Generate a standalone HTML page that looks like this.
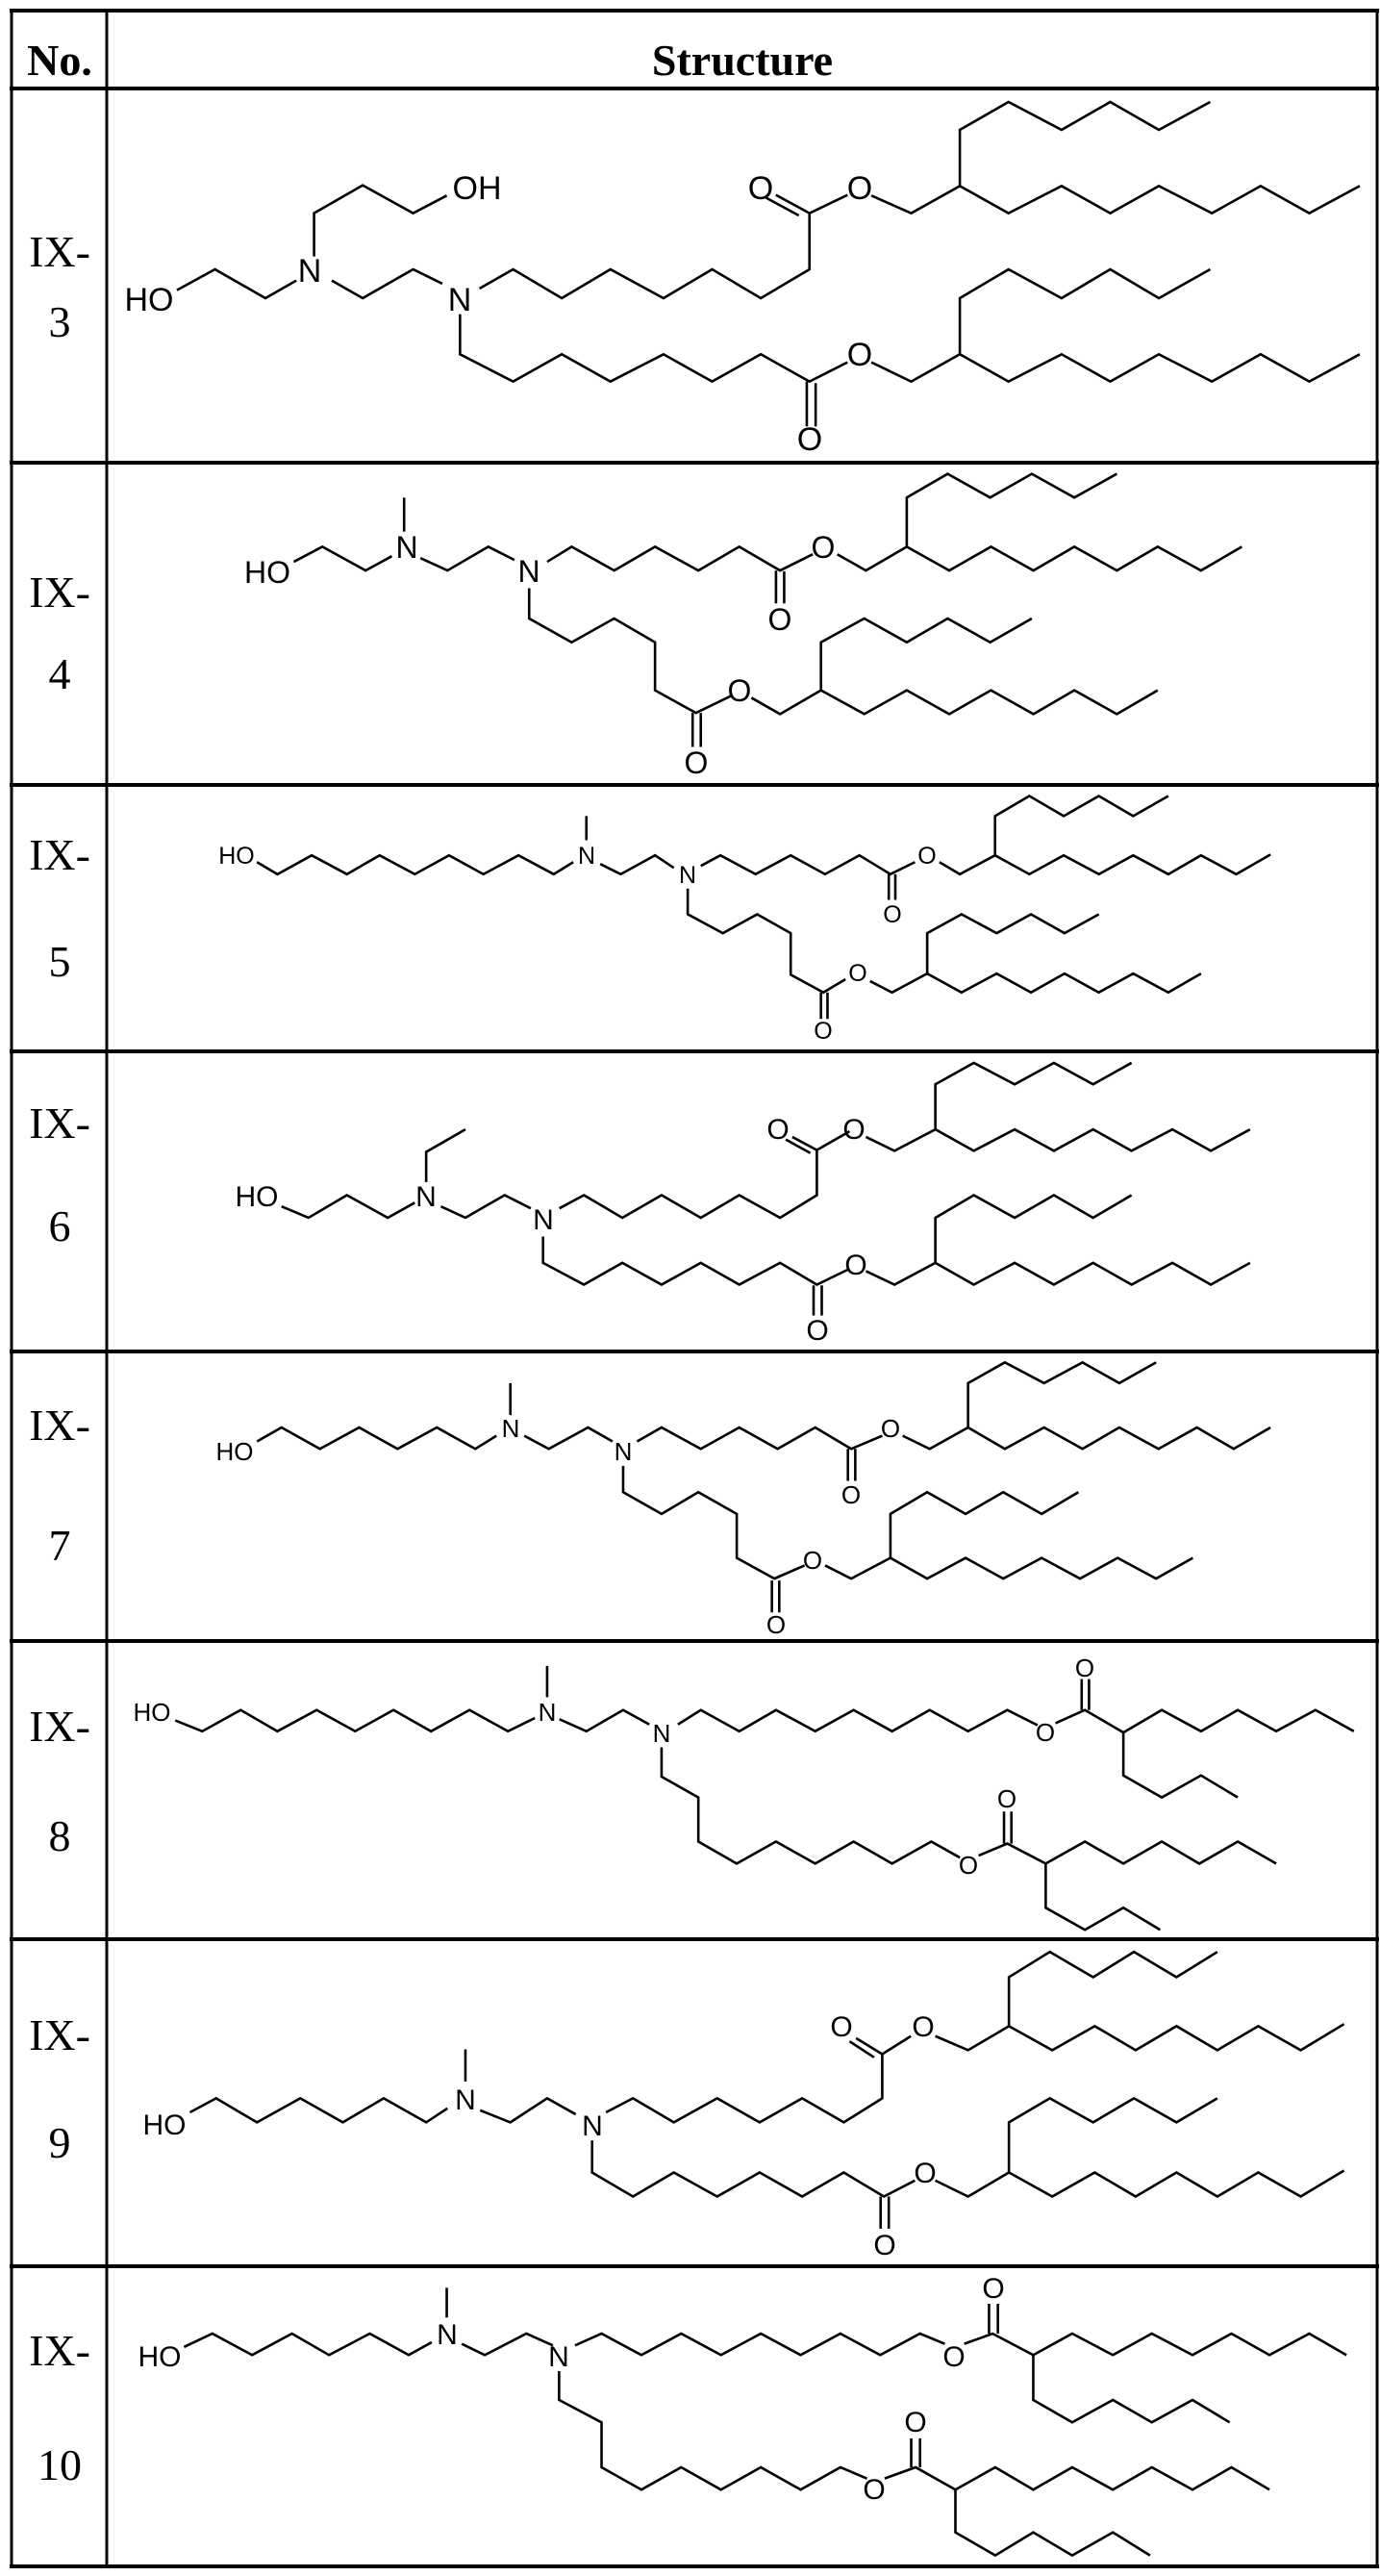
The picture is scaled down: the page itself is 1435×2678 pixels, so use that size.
<!DOCTYPE html>
<html><head><meta charset="utf-8"><style>
html,body{margin:0;padding:0;background:#fff;}
svg{display:block;}
.b polyline,.b line{fill:none;stroke:#000;stroke-width:2.6;vector-effect:non-scaling-stroke;stroke-linejoin:miter;}
.t{font-family:"Liberation Sans",sans-serif;text-anchor:middle;fill:#000;}
.s{font-family:"Liberation Serif",serif;text-anchor:middle;fill:#000;font-size:46px;}
</style></head><body>
<svg width="1435" height="2678" viewBox="0 0 1435 2678" xmlns="http://www.w3.org/2000/svg">
<rect width="1435" height="2678" fill="#fff"/>
<g stroke="#000" stroke-width="4">
<line x1="10" y1="11" x2="1434" y2="11"/><line x1="10" y1="92" x2="1434" y2="92"/>
<line x1="10" y1="481" x2="1434" y2="481"/><line x1="10" y1="816" x2="1434" y2="816"/>
<line x1="10" y1="1093" x2="1434" y2="1093"/><line x1="10" y1="1405" x2="1434" y2="1405"/>
<line x1="10" y1="1706" x2="1434" y2="1706"/><line x1="10" y1="2016" x2="1434" y2="2016"/>
<line x1="10" y1="2356" x2="1434" y2="2356"/><line x1="10" y1="2668" x2="1434" y2="2668"/>
</g>
<g stroke="#000" stroke-width="3">
<line x1="12" y1="10" x2="12" y2="2670"/><line x1="111" y1="10" x2="111" y2="2670"/><line x1="1432" y1="10" x2="1432" y2="2670"/>
</g>
<text x="62" y="78" class="s" font-weight="bold" style="font-size:46px">No.</text>
<text x="772" y="78" class="s" font-weight="bold" style="font-size:46px">Structure</text>
<text x="62" y="277" class="s">IX-</text><text x="62" y="350" class="s">3</text>
<text x="62" y="631" class="s">IX-</text><text x="62" y="716" class="s">4</text>
<text x="62" y="904" class="s">IX-</text><text x="62" y="1015" class="s">5</text>
<text x="62" y="1183" class="s">IX-</text><text x="62" y="1290" class="s">6</text>
<text x="62" y="1497" class="s">IX-</text><text x="62" y="1622" class="s">7</text>
<text x="62" y="1810" class="s">IX-</text><text x="62" y="1924" class="s">8</text>
<text x="62" y="2131" class="s">IX-</text><text x="62" y="2243" class="s">9</text>
<text x="62" y="2459" class="s">IX-</text><text x="62" y="2578" class="s">10</text>

<!-- IX-3 -->
<g class="b" transform="translate(0,0) scale(0.9199,0.3333)">
<polyline points="200,905 243,840 300,930 335,875"/>
<polyline points="355,800 355,665 410,578 467,665 505,610"/>
<polyline points="375,875 410,930 467,840 500,885"/>
<polyline points="542,900 580,840 635,930 690,840 750,930 805,840 860,930 915,840 915,665 958,608"/>
<line x1="915" y1="665" x2="877" y2="608"/><line x1="903" y1="672" x2="866" y2="617"/>
<polyline points="985,610 1030,665 1085,580 1140,665 1200,580 1255,665 1310,580 1370,665 1425,580 1480,665 1537,580"/>
<polyline points="1085,580 1085,405 1140,318 1200,405 1255,318 1310,405 1368,318"/>
<polyline points="520,980 520,1105 580,1190 635,1105 690,1190 750,1105 805,1190 860,1105 915,1190 958,1130"/>
<line x1="912" y1="1190" x2="912" y2="1330"/><line x1="922" y1="1195" x2="922" y2="1330"/>
<polyline points="985,1130 1030,1190 1085,1105 1140,1190 1200,1105 1255,1190 1310,1105 1370,1190 1425,1105 1480,1190 1537,1105"/>
<polyline points="1085,1105 1085,930 1140,840 1200,930 1255,840 1310,930 1368,840"/>
</g>
<g class="t" style="font-size:34px">
<text x="155" y="323">HO</text><text x="496" y="207">OH</text><text x="322" y="293">N</text><text x="478" y="323">N</text>
<text x="791" y="207">O</text><text x="894" y="207">O</text><text x="894" y="380">O</text><text x="842" y="468">O</text>
</g>

<!-- IX-4 & IX-5 -->
<g class="b" transform="translate(110,480) scale(0.8499,0.3927)">
<polyline points="230,265 265,225 318,288 350,250"/>
<polyline points="365,185 365,95"/>
<polyline points="385,255 418,288 468,225 500,260"/>
<polyline points="540,265 570,225 622,288 672,225 725,288 775,225 825,288 865,245"/>
<line x1="820" y1="288" x2="820" y2="375"/><line x1="830" y1="290" x2="830" y2="375"/>
<polyline points="895,245 930,288 980,225 1032,288 1083,225 1135,288 1185,225 1237,288 1287,225 1340,288 1390,225"/>
<polyline points="980,225 980,95 1030,32 1082,95 1133,32 1185,95 1237,32"/>
<polyline points="518,335 518,415 570,478 622,415 672,478 672,605 722,665 765,620"/>
<line x1="718" y1="665" x2="718" y2="755"/><line x1="728" y1="665" x2="728" y2="755"/>
<polyline points="790,625 825,668 875,605 928,668 980,605 1032,668 1083,605 1135,668 1185,605 1237,668 1287,605"/>
<polyline points="875,605 875,478 928,415 980,478 1030,415 1082,478 1133,415"/>

<polyline points="185,1060 210,1092 252,1042 295,1092 335,1042 378,1092 420,1042 462,1092 505,1042 548,1092 572,1060"/>
<polyline points="588,1002 588,938"/>
<polyline points="605,1065 630,1092 672,1042 695,1075"/>
<polyline points="728,1070 752,1042 795,1092 838,1042 880,1092 922,1042 960,1092 990,1060"/>
<line x1="958" y1="1092" x2="958" y2="1160"/><line x1="966" y1="1092" x2="966" y2="1160"/>
<polyline points="1020,1060 1045,1092 1088,1042 1130,1092 1172,1042 1215,1092 1257,1042 1300,1092 1340,1042 1383,1092 1425,1040"/>
<polyline points="1088,1042 1088,938 1130,885 1172,938 1215,885 1257,938 1300,885"/>
<polyline points="712,1130 712,1198 755,1248 797,1198 838,1248 838,1358 878,1405 905,1370"/>
<line x1="875" y1="1405" x2="875" y2="1475"/><line x1="883" y1="1405" x2="883" y2="1475"/>
<polyline points="935,1375 962,1405 1005,1355 1047,1405 1090,1355 1132,1405 1173,1355 1215,1405 1257,1355 1300,1405 1340,1355"/>
<polyline points="1005,1355 1005,1248 1047,1198 1090,1248 1132,1198 1173,1248 1215,1198"/>
</g>
<g class="t" style="font-size:32px">
<text x="278" y="606">HO</text><text x="423" y="580">N</text><text x="550" y="605">N</text>
<text x="856" y="580">O</text><text x="811" y="655">O</text><text x="769" y="729">O</text><text x="724" y="804">O</text>
</g>
<g class="t" style="font-size:25px">
<text x="246" y="898">HO</text><text x="610" y="898">N</text><text x="715" y="918">N</text>
<text x="964" y="898">O</text><text x="928" y="959">O</text><text x="892" y="1020">O</text><text x="856" y="1080">O</text>
</g>

<!-- IX-6 & IX-7 -->
<g class="b" transform="translate(110,1094) scale(0.8499,0.3908)">
<polyline points="215,410 248,440 295,380 345,440 378,400"/>
<polyline points="392,345 392,265 440,205"/>
<polyline points="410,410 440,440 488,380 520,415"/>
<polyline points="555,415 585,380 632,440 680,380 728,440 775,380 825,440 870,380 870,260 910,210"/>
<line x1="870" y1="260" x2="840" y2="225"/><line x1="862" y1="268" x2="832" y2="232"/>
<polyline points="930,225 965,262 1015,205 1062,262 1112,205 1160,262 1208,205 1255,262 1305,205 1352,262 1400,205"/>
<polyline points="1015,205 1015,85 1062,28 1112,85 1160,28 1208,85 1255,28"/>
<polyline points="535,490 535,560 585,618 632,560 680,618 728,560 775,618 825,560 870,618 908,578"/>
<line x1="866" y1="620" x2="866" y2="700"/><line x1="876" y1="620" x2="876" y2="700"/>
<polyline points="930,582 965,618 1015,560 1062,618 1112,560 1160,618 1208,560 1255,618 1305,560 1352,618 1400,560"/>
<polyline points="1015,560 1015,440 1062,380 1112,440 1160,380 1208,440 1255,380"/>

<polyline points="185,1035 215,998 262,1055 310,998 357,1055 405,998 452,1055 478,1020"/>
<polyline points="495,965 495,880"/>
<polyline points="512,1020 542,1055 590,998 620,1035"/>
<polyline points="650,1035 680,998 728,1055 775,998 822,1055 868,998 912,1055 950,1020"/>
<line x1="908" y1="1055" x2="908" y2="1140"/><line x1="917" y1="1055" x2="917" y2="1140"/>
<polyline points="975,1020 1008,1055 1055,998 1100,1055 1148,998 1195,1055 1240,998 1288,1055 1335,998 1380,1055 1425,998"/>
<polyline points="1055,998 1055,880 1100,825 1148,880 1195,825 1240,880 1285,825"/>
<polyline points="633,1100 633,1170 680,1228 725,1170 772,1228 772,1345 818,1400 855,1365"/>
<line x1="815" y1="1405" x2="815" y2="1490"/><line x1="824" y1="1405" x2="824" y2="1490"/>
<polyline points="880,1365 912,1400 960,1345 1005,1400 1052,1345 1098,1400 1145,1345 1192,1400 1238,1345 1285,1400 1330,1345"/>
<polyline points="960,1345 960,1228 1005,1170 1052,1228 1098,1170 1145,1228 1190,1170"/>
</g>
<g class="t" style="font-size:30px">
<text x="267" y="1254">HO</text><text x="443" y="1254">N</text><text x="565" y="1278">N</text>
<text x="888" y="1184">O</text><text x="809" y="1184">O</text><text x="890" y="1325">O</text><text x="850" y="1393">O</text>
</g>
<g class="t" style="font-size:26px">
<text x="244" y="1518">HO</text><text x="531" y="1494">N</text><text x="648" y="1518">N</text>
<text x="926" y="1494">O</text><text x="885" y="1563">O</text><text x="845" y="1631">O</text><text x="807" y="1698">O</text>
</g>

<!-- IX-8 & IX-9 -->
<g class="b" transform="translate(110,1706) scale(0.8499,0.4170)">
<polyline points="85,198 118,225 165,172 210,225 258,172 305,225 352,172 398,225 445,172 492,225 525,192"/>
<polyline points="540,140 540,62"/>
<polyline points="555,195 588,225 633,172 665,208"/>
<polyline points="700,208 728,172 775,225 820,172 868,225 915,172 962,225 1008,172 1055,225 1103,172 1140,210"/>
<polyline points="1162,205 1198,172 1245,228 1292,172 1340,225 1385,172 1432,225 1480,172 1527,225"/>
<line x1="1194" y1="172" x2="1194" y2="95"/><line x1="1203" y1="172" x2="1203" y2="95"/>
<polyline points="1245,228 1245,335 1292,390 1340,335 1385,390"/>
<polyline points="680,265 680,338 725,390 725,500 772,555 820,500 868,555 915,500 962,555 1010,500 1045,540"/>
<polyline points="1068,535 1103,505 1150,555 1198,500 1245,555 1292,500 1338,555 1385,500 1432,555"/>
<line x1="1099" y1="505" x2="1099" y2="425"/><line x1="1108" y1="505" x2="1108" y2="425"/>
<polyline points="1150,555 1150,665 1198,720 1245,665 1290,720"/>

<polyline points="103,1175 135,1140 185,1200 238,1140 290,1200 340,1140 392,1200 418,1165"/>
<polyline points="440,1098 440,1018"/>
<polyline points="458,1170 495,1200 540,1140 575,1180"/>
<polyline points="612,1175 645,1140 695,1200 748,1140 800,1200 852,1140 903,1200 950,1140 950,1030 985,985"/>
<line x1="950" y1="1030" x2="918" y2="990"/><line x1="940" y1="1038" x2="910" y2="998"/>
<polyline points="1015,985 1055,1020 1105,960 1158,1020 1210,960 1260,1020 1310,960 1360,1020 1410,960 1462,1020 1515,955"/>
<polyline points="1105,960 1105,838 1155,775 1208,838 1258,775 1310,838 1360,775"/>
<polyline points="595,1245 595,1325 645,1385 695,1325 748,1385 800,1325 852,1385 903,1325 952,1385 990,1345"/>
<line x1="948" y1="1385" x2="948" y2="1465"/><line x1="958" y1="1385" x2="958" y2="1465"/>
<polyline points="1015,1345 1055,1385 1105,1325 1158,1385 1210,1325 1260,1385 1310,1325 1360,1385 1410,1325 1462,1385 1515,1320"/>
<polyline points="1105,1325 1105,1200 1155,1140 1208,1200 1258,1140 1310,1200 1360,1140"/>
</g>
<g class="t" style="font-size:26px">
<text x="158" y="1789">HO</text><text x="569" y="1789">N</text><text x="688" y="1811">N</text>
<text x="1087" y="1810">O</text><text x="1128" y="1743">O</text><text x="1007" y="1948">O</text><text x="1047" y="1879">O</text>
</g>
<g class="t" style="font-size:30px">
<text x="171" y="2219">HO</text><text x="484" y="2193">N</text><text x="616" y="2220">N</text>
<text x="960" y="2117">O</text><text x="875" y="2117">O</text><text x="962" y="2269">O</text><text x="920" y="2344">O</text>
</g>

<!-- IX-10 -->
<g class="b" transform="translate(0,2300) scale(0.9199,0.3333)">
<polyline points="208,420 240,378 285,445 330,378 372,445 418,378 462,445 488,405"/>
<polyline points="505,328 505,235"/>
<polyline points="522,410 548,445 595,378 625,415"/>
<polyline points="650,415 680,378 725,445 770,378 815,445 860,378 905,445 950,378 995,445 1040,378 1068,410"/>
<polyline points="1090,410 1122,378 1168,445 1212,378 1258,445 1302,378 1348,445 1392,378 1435,445 1480,378 1522,445"/>
<line x1="1118" y1="378" x2="1118" y2="285"/><line x1="1128" y1="378" x2="1128" y2="285"/>
<polyline points="1168,445 1168,585 1212,655 1258,585 1302,655 1348,585 1390,655"/>
<polyline points="632,495 632,585 680,655 680,795 725,865 770,795 815,865 860,795 905,865 950,795 980,830"/>
<polyline points="1000,830 1035,795 1080,865 1125,795 1168,865 1212,795 1258,865 1302,795 1348,865 1392,795 1435,865"/>
<line x1="1030" y1="795" x2="1030" y2="705"/><line x1="1040" y1="795" x2="1040" y2="705"/>
<polyline points="1080,865 1080,998 1125,1070 1168,998 1212,1070 1258,998 1300,1070"/>
</g>
<g class="t" style="font-size:30px">
<text x="166" y="2460">HO</text><text x="465" y="2437">N</text><text x="581" y="2460">N</text>
<text x="992" y="2460">O</text><text x="1033" y="2389">O</text><text x="909" y="2598">O</text><text x="952" y="2528">O</text>
</g>
</svg>
</body></html>
